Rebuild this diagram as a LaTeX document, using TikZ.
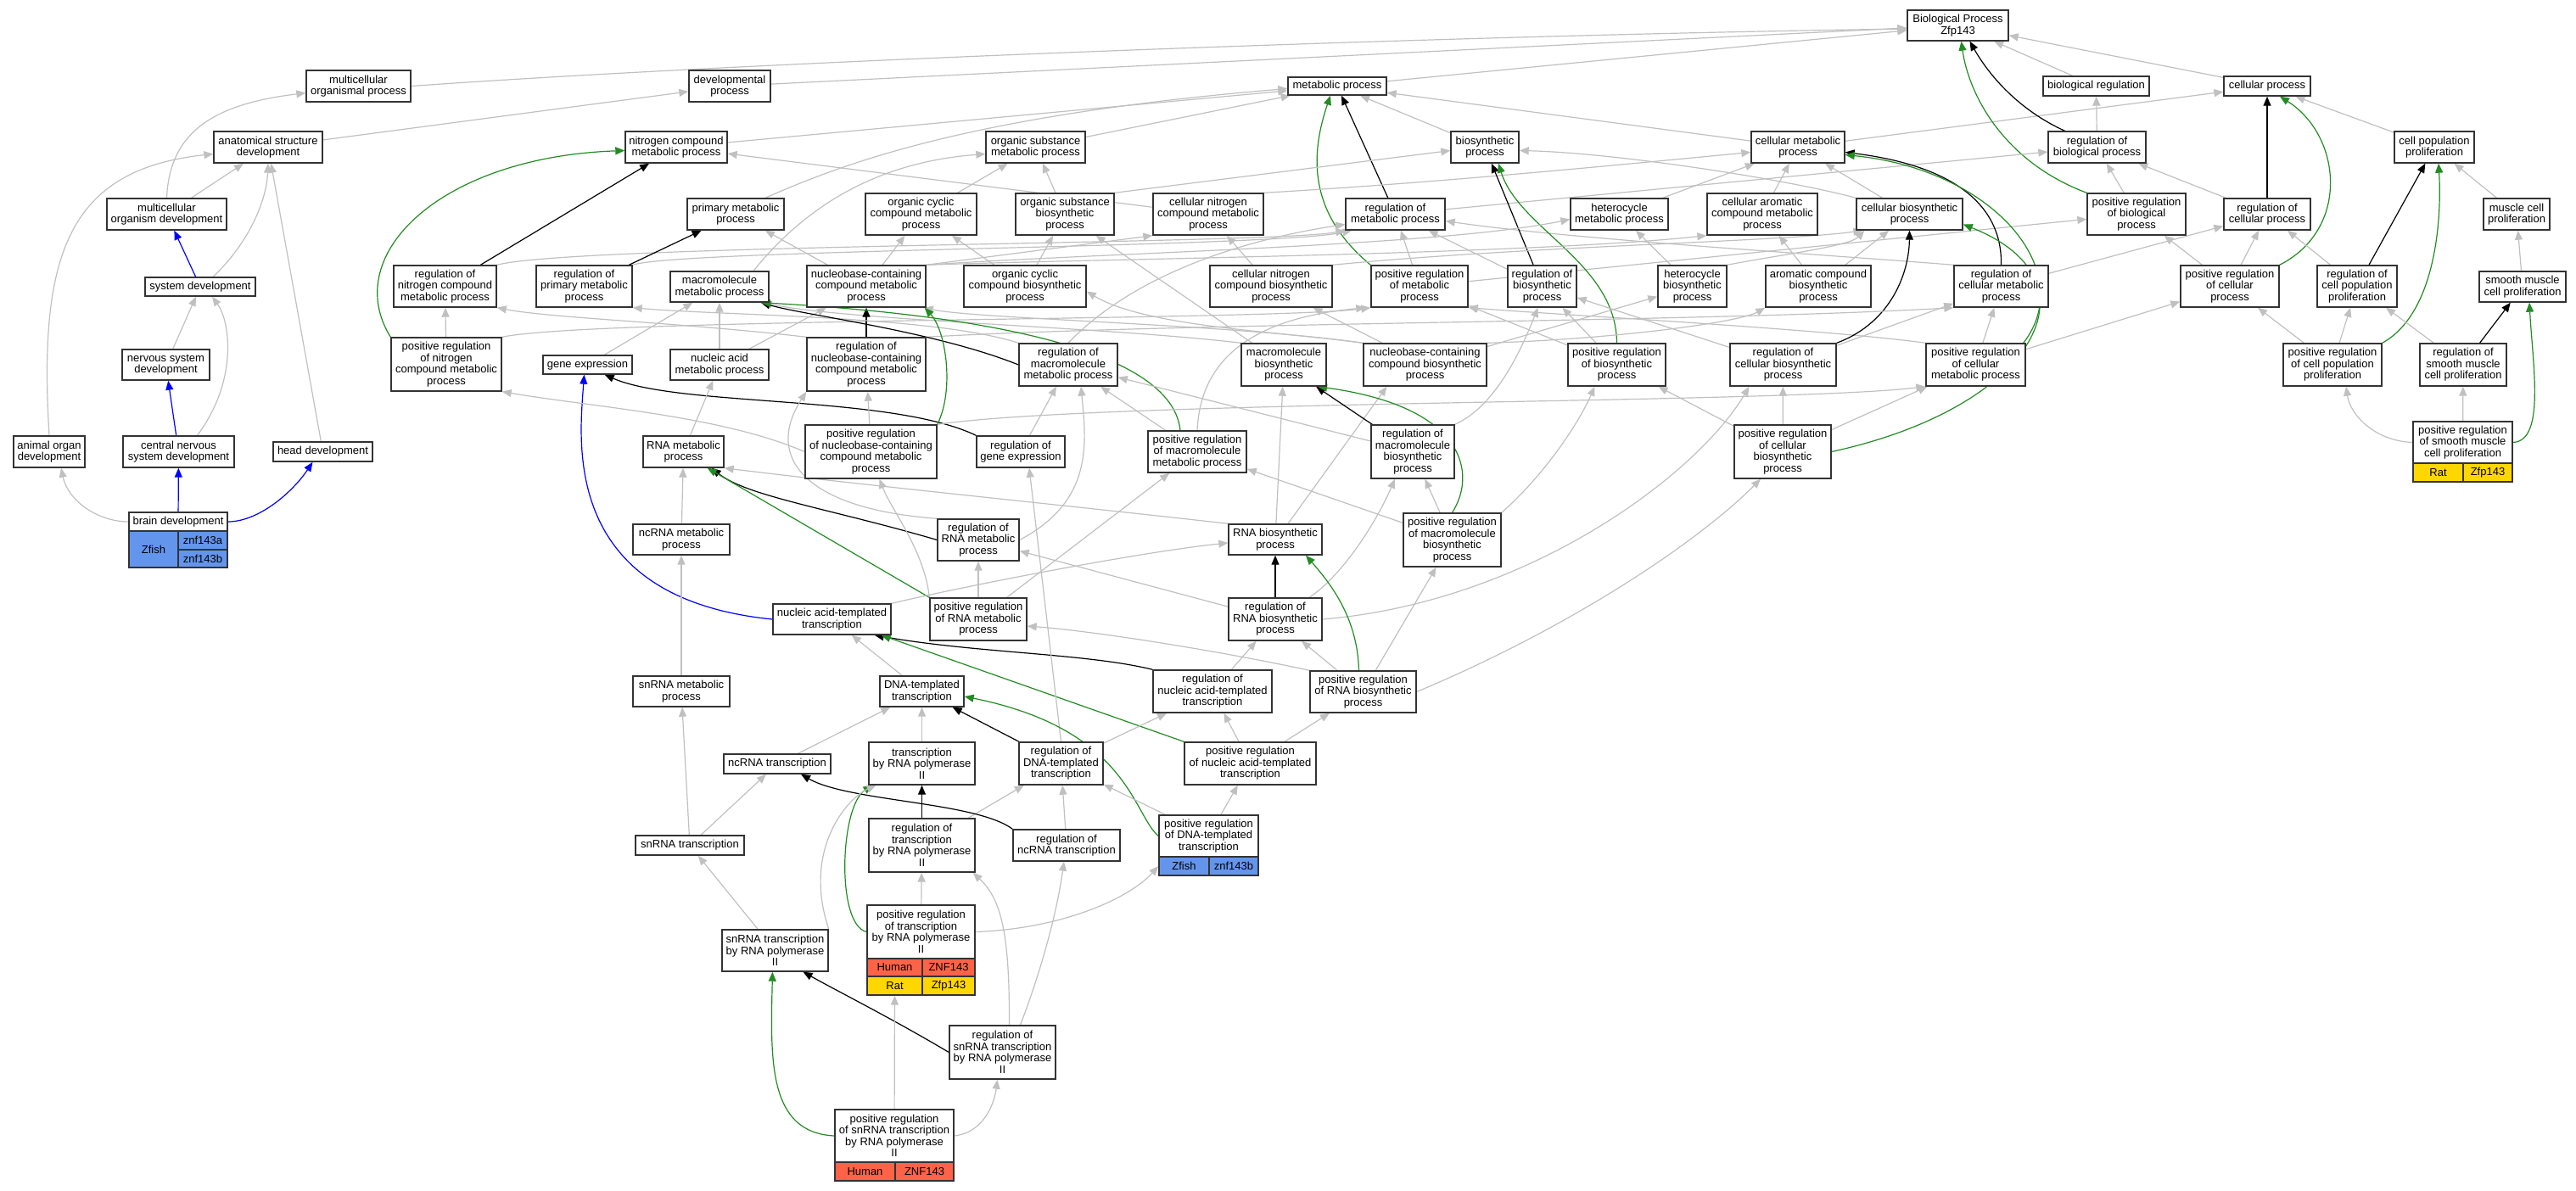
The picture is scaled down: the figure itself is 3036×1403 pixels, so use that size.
\documentclass[tikz,border=0pt]{standalone}
\usepackage{fontspec}
\setmainfont{Liberation Sans}
\usetikzlibrary{arrows.meta}
\definecolor{isag}{HTML}{C0C0C0}
\definecolor{posg}{HTML}{228B22}
\definecolor{partb}{HTML}{0000FF}
\definecolor{zf}{HTML}{6495ED}
\definecolor{hu}{HTML}{FF6347}
\definecolor{ra}{HTML}{FFD700}
\definecolor{bord}{HTML}{333333}
\pgfdeclarelayer{bg}
\pgfsetlayers{bg,main}
\tikzset{
 gobox/.style={draw=bord, line width=1.4pt, fill=white, inner sep=0pt, align=center, font=\fontsize{13}{13.5}\selectfont},
 cellbox/.style={draw=bord, line width=1.4pt, inner sep=0pt, align=center, font=\fontsize{13}{13.5}\selectfont},
 goedge/.style={line width=1.2pt, -{Triangle[length=11pt,width=9pt]}},
 isaE/.style={goedge, draw=isag},
 regE/.style={goedge, draw=black},
 posE/.style={goedge, draw=posg},
 partE/.style={goedge, draw=partb},
}
\newcommand\gonode[6]{\node[gobox,minimum width={#4-#2},minimum height={#5-#3}] (#1) at ({(#2+#4)/2},{(#3+#5)/2}) {#6};}
\newcommand\gocell[7]{\node[cellbox,fill=#6,minimum width={#4-#2},minimum height={#5-#3}] (#1) at ({(#2+#4)/2},{(#3+#5)/2}) {#7};}
\begin{document}
\begin{tikzpicture}[x=1pt,y=-1pt]
\useasboundingbox (0,0) rectangle (3036,1403);
% ---------- nodes ----------
\gonode{BPZ}{2248}{12}{2367}{48}{Biological Process\\Zfp143}
\gonode{MOP}{361}{83}{484}{120}{multicellular\\organismal process}
\gonode{DP}{812}{83}{908}{120}{developmental\\process}
\gonode{MP}{1518}{91}{1634}{112}{metabolic process}
\gonode{BR}{2408}{90}{2533}{113}{biological regulation}
\gonode{CP}{2621}{90}{2723}{113}{cellular process}
\gonode{ASD}{252}{155}{380}{192}{anatomical structure\\development}
\gonode{NCMP}{737}{155}{857}{192}{nitrogen compound\\metabolic process}
\gonode{OSMP}{1162}{155}{1279}{192}{organic substance\\metabolic process}
\gonode{BSP}{1710}{155}{1790}{192}{biosynthetic\\process}
\gonode{CMP}{2064}{155}{2174}{192}{cellular metabolic\\process}
\gonode{RBioP}{2414}{155}{2529}{192}{regulation of\\biological process}
\gonode{CPP}{2822}{155}{2916}{192}{cell population\\proliferation}
\gonode{MOD}{126}{234}{267}{271}{multicellular\\organism development}
\gonode{PMP}{810}{234}{924}{271}{primary metabolic\\process}
\gonode{OCCMP}{1020}{228}{1151}{277}{organic cyclic\\compound metabolic\\process}
\gonode{OSBP}{1197}{228}{1313}{277}{organic substance\\biosynthetic\\process}
\gonode{CNCMP}{1359}{228}{1489}{277}{cellular nitrogen\\compound metabolic\\process}
\gonode{RMP}{1586}{234}{1703}{271}{regulation of\\metabolic process}
\gonode{HMP}{1851}{234}{1966}{271}{heterocycle\\metabolic process}
\gonode{CACMP}{2012}{228}{2142}{277}{cellular aromatic\\compound metabolic\\process}
\gonode{CBP}{2188}{234}{2313}{271}{cellular biosynthetic\\process}
\gonode{PRBioP}{2460}{228}{2576}{277}{positive regulation\\of biological\\process}
\gonode{RCP}{2621}{234}{2723}{271}{regulation of\\cellular process}
\gonode{MCP}{2927}{234}{3005}{271}{muscle cell\\proliferation}
\gonode{SD}{171}{327}{301}{349}{system development}
\gonode{RNCMP}{464}{313}{585}{362}{regulation of\\nitrogen compound\\metabolic process}
\gonode{RPMP}{632}{313}{745}{362}{regulation of\\primary metabolic\\process}
\gonode{MMP}{790}{320}{906}{356}{macromolecule\\metabolic process}
\gonode{NCCMP}{951}{313}{1091}{362}{nucleobase-containing\\compound metabolic\\process}
\gonode{OCCBP}{1136}{313}{1280}{362}{organic cyclic\\compound biosynthetic\\process}
\gonode{CNCBP}{1426}{313}{1570}{362}{cellular nitrogen\\compound biosynthetic\\process}
\gonode{PRMP}{1616}{313}{1730}{362}{positive regulation\\of metabolic\\process}
\gonode{RBP}{1777}{313}{1858}{362}{regulation of\\biosynthetic\\process}
\gonode{HBP}{1954}{313}{2035}{362}{heterocycle\\biosynthetic\\process}
\gonode{ACBP}{2081}{313}{2205}{362}{aromatic compound\\biosynthetic\\process}
\gonode{RCMP}{2303}{313}{2414}{362}{regulation of\\cellular metabolic\\process}
\gonode{PRCP}{2570}{313}{2686}{362}{positive regulation\\of cellular\\process}
\gonode{RCPP}{2731}{313}{2825}{362}{regulation of\\cell population\\proliferation}
\gonode{SMCP}{2922}{320}{3024}{356}{smooth muscle\\cell proliferation}
\gonode{NSD}{144}{412}{247}{448}{nervous system\\development}
\gonode{PRNCMP}{461}{398}{591}{461}{positive regulation\\of nitrogen\\compound metabolic\\process}
\gonode{GE}{640}{419}{745}{441}{gene expression}
\gonode{NAMP}{790}{412}{906}{448}{nucleic acid\\metabolic process}
\gonode{RNCCMP}{951}{398}{1091}{461}{regulation of\\nucleobase-containing\\compound metabolic\\process}
\gonode{RMMP}{1201}{405}{1317}{455}{regulation of\\macromolecule\\metabolic process}
\gonode{MBP}{1463}{405}{1563}{455}{macromolecule\\biosynthetic\\process}
\gonode{NCCBP}{1607}{405}{1752}{455}{nucleobase-containing\\compound biosynthetic\\process}
\gonode{PRBP}{1848}{405}{1963}{455}{positive regulation\\of biosynthetic\\process}
\gonode{RCBP}{2039}{405}{2164}{455}{regulation of\\cellular biosynthetic\\process}
\gonode{PRCMP}{2270}{405}{2387}{455}{positive regulation\\of cellular\\metabolic process}
\gonode{PRCPP}{2691}{405}{2807}{455}{positive regulation\\of cell population\\proliferation}
\gonode{RSMCP}{2852}{405}{2954}{455}{regulation of\\smooth muscle\\cell proliferation}
\gonode{AOD}{16}{514}{100}{551}{animal organ\\development}
\gonode{CNSD}{145}{514}{276}{551}{central nervous\\system development}
\gonode{HD}{322}{521}{439}{544}{head development}
\gonode{RNAMP}{758}{514}{853}{551}{RNA metabolic\\process}
\gonode{PRNCCMP}{949}{501}{1104}{564}{positive regulation\\of nucleobase-containing\\compound metabolic\\process}
\gonode{RGE}{1151}{514}{1255}{551}{regulation of\\gene expression}
\gonode{PRMMP}{1353}{508}{1469}{557}{positive regulation\\of macromolecule\\metabolic process}
\gonode{RMBP}{1616}{501}{1714}{564}{regulation of\\macromolecule\\biosynthetic\\process}
\gonode{PRCBP}{2044}{501}{2158}{564}{positive regulation\\of cellular\\biosynthetic\\process}
\gonode{PRSMCP}{2844}{497}{2961}{546}{positive regulation\\of smooth muscle\\cell proliferation}
\gocell{PRSMCPa}{2844}{546}{2903}{568}{ra}{Rat}
\gocell{PRSMCPb}{2903}{546}{2961}{568}{ra}{Zfp143}
\gonode{BD}{152}{604}{268}{626}{brain development}
\gocell{BDz}{152}{626}{210}{669}{zf}{Zfish}
\gocell{BDa}{210}{626}{268}{648}{zf}{znf143a}
\gocell{BDb}{210}{648}{268}{669}{zf}{znf143b}
\gonode{ncRNAMP}{746}{618}{860}{654}{ncRNA metabolic\\process}
\gonode{RRNAMP}{1105}{612}{1201}{661}{regulation of\\RNA metabolic\\process}
\gonode{RNABP}{1448}{618}{1558}{654}{RNA biosynthetic\\process}
\gonode{PRMBP}{1654}{605}{1769}{668}{positive regulation\\of macromolecule\\biosynthetic\\process}
\gonode{NATT}{911}{712}{1050}{748}{nucleic acid-templated\\transcription}
\gonode{PRRNAMP}{1096}{705}{1210}{755}{positive regulation\\of RNA metabolic\\process}
\gonode{RRNABP}{1448}{705}{1558}{755}{regulation of\\RNA biosynthetic\\process}
\gonode{snRNAMP}{746}{797}{860}{833}{snRNA metabolic\\process}
\gonode{DNATT}{1037}{797}{1136}{833}{DNA-templated\\transcription}
\gonode{RNATT}{1359}{790}{1499}{840}{regulation of\\nucleic acid-templated\\transcription}
\gonode{PRRNABP}{1544}{791}{1669}{840}{positive regulation\\of RNA biosynthetic\\process}
\gonode{ncRNAT}{853}{889}{979}{912}{ncRNA transcription}
\gonode{TRP2}{1024}{875}{1149}{925}{transcription\\by RNA polymerase\\II}
\gonode{RDNATT}{1201}{875}{1300}{925}{regulation of\\DNA-templated\\transcription}
\gonode{PRNATT}{1396}{875}{1551}{925}{positive regulation\\of nucleic acid-templated\\transcription}
\gonode{snRNAT}{749}{985}{877}{1008}{snRNA transcription}
\gonode{RTRP2}{1024}{965}{1149}{1028}{regulation of\\transcription\\by RNA polymerase\\II}
\gonode{RncRNAT}{1194}{978}{1320}{1015}{regulation of\\ncRNA transcription}
\gonode{PRDNATT}{1366}{961}{1483}{1010}{positive regulation\\of DNA-templated\\transcription}
\gocell{PRDNATTa}{1366}{1010}{1425}{1032}{zf}{Zfish}
\gocell{PRDNATTb}{1425}{1010}{1483}{1032}{zf}{znf143b}
\gonode{snRNATRP2}{851}{1096}{976}{1145}{snRNA transcription\\by RNA polymerase\\II}
\gonode{PRTRP2}{1022}{1067}{1149}{1130}{positive regulation\\of transcription\\by RNA polymerase\\II}
\gocell{PRTRP2a}{1022}{1130}{1087}{1151}{hu}{Human}
\gocell{PRTRP2b}{1087}{1130}{1149}{1151}{hu}{ZNF143}
\gocell{PRTRP2c}{1022}{1151}{1087}{1173}{ra}{Rat}
\gocell{PRTRP2d}{1087}{1151}{1149}{1173}{ra}{Zfp143}
\gonode{RsnRNATRP2}{1119}{1209}{1244}{1272}{regulation of\\snRNA transcription\\by RNA polymerase\\II}
\gonode{PRsnRNATRP2}{984}{1308}{1124}{1370}{positive regulation\\of snRNA transcription\\by RNA polymerase\\II}
\gocell{PRsnRNATRP2a}{984}{1370}{1055}{1392}{hu}{Human}
\gocell{PRsnRNATRP2b}{1055}{1370}{1124}{1392}{hu}{ZNF143}
% ---------- edges ----------
\begin{pgfonlayer}{bg}
% development
\draw[isaE] (MOP.east) .. controls (900,72) and (1700,42) .. ([yshift=-4pt]BPZ.west);
\draw[isaE] (DP) -- (BPZ);
\draw[isaE] (ASD) -- (DP);
\draw[isaE] (MOD.north) .. controls (200,150) and (260,122) .. ([yshift=-8pt]MOP.west);
\draw[isaE] (MOD) -- (ASD);
\draw[partE] (SD) -- (MOD);
\draw[isaE] ([xshift=15pt]SD.north) .. controls (290,290) and (314,240) .. (ASD.south);
\draw[isaE] (NSD) -- (SD);
\draw[isaE] (AOD.north) .. controls (45,300) and (80,200) .. ([yshift=-8pt]ASD.west);
\draw[isaE] ([xshift=22pt]CNSD.north) .. controls (280,450) and (272,380) .. ([xshift=14pt]SD.south);
\draw[partE] (CNSD) -- (NSD);
\draw[isaE] (HD) -- (ASD);
\draw[isaE] (BD.west) .. controls (115,615) and (80,590) .. ([xshift=14pt]AOD.south);
\draw[partE] (BD) -- (CNSD);
\draw[partE] (BD.east) .. controls (305,615) and (345,580) .. ([xshift=-12pt]HD.south);
% top level
\draw[isaE] (MP) -- (BPZ);
\draw[isaE] (BR) -- (BPZ);
\draw[isaE] (CP) -- (BPZ);
\draw[isaE] (NCMP) -- (MP);
\draw[isaE] ([xshift=35pt]PMP.north) .. controls (1000,190) and (1150,135) .. ([yshift=-3pt]MP.west);
\draw[isaE] (OSMP) -- (MP);
\draw[isaE] ([xshift=40pt]MMP.north) .. controls (960,230) and (1050,190) .. ([yshift=-8pt]OSMP.west);
\draw[isaE] (BSP) -- (MP);
\draw[isaE] (CMP) -- (MP);
\draw[regE] (RMP) -- (MP);
\draw[posE] (PRMP.north west) .. controls (1540,250) and (1545,180) .. ([xshift=-8pt]MP.south);
\draw[isaE] (CMP) -- (CP);
\draw[isaE] (CPP) -- (CP);
\draw[regE] ([xshift=-38pt]RBioP.north) .. controls (2380,130) and (2345,90) .. ([xshift=14pt]BPZ.south);
\draw[posE] (PRBioP.north west) .. controls (2360,190) and (2320,110) .. ([xshift=4pt]BPZ.south);
\draw[isaE] (RBioP) -- (BR);
\draw[isaE] (PRBioP) -- (RBioP);
\draw[regE] (RCP) -- (CP);
\draw[isaE] (RCP) -- (RBioP);
\draw[posE] (PRCP.north east) .. controls (2770,270) and (2760,160) .. ([xshift=15pt]CP.south);
\draw[isaE] (PRCP) -- (RCP);
\draw[isaE] (PRCP) -- (PRBioP);
\draw[isaE] (RMP) -- (RBioP);
\draw[isaE] (PRMP) -- (PRBioP);
\draw[isaE] (PRMP) -- (RMP);
\draw[isaE] (RCMP) -- (RCP);
\draw[isaE] (RCMP.north west) .. controls (2150,300) and (1850,282) .. ([yshift=-8pt]RMP.east);
\draw[regE] (RCMP.north) .. controls (2360,240) and (2300,195) .. ([yshift=-6pt]CMP.east);
\draw[posE] ([xshift=-3pt]PRCMP.north east) .. controls (2450,320) and (2350,200) .. ([yshift=-9pt]CMP.east);
\draw[isaE] (PRCMP) -- (RCMP);
\draw[isaE] (PRCMP) -- (PRCP);
\draw[isaE] (PRCMP.north west) .. controls (2150,388) and (1850,372) .. (PRMP.south east);
% nitrogen / primary
\draw[regE] (RNCMP) -- (NCMP);
\draw[isaE] (RNCMP.north east) .. controls (680,288) and (1500,288) .. (RMP.south west);
\draw[regE] (RPMP) -- (PMP);
\draw[isaE] (RPMP.north east) .. controls (800,294) and (1500,292) .. ([xshift=8pt]RMP.south west);
\draw[posE] (PRNCMP.north west) .. controls (400,300) and (520,185) .. ([yshift=-4pt]NCMP.west);
\draw[isaE] (PRNCMP) -- (RNCMP);
\draw[isaE] (PRNCMP.north east) .. controls (700,375) and (1500,378) .. (PRMP.south west);
\draw[isaE] (GE) -- (MMP);
\draw[regE] (RGE.north west) .. controls (1050,465) and (800,480) .. ([xshift=-33pt]GE.south east);
\draw[partE] (NATT.west) .. controls (660,705) and (683,520) .. ([xshift=-4pt]GE.south);
\draw[isaE] (NCCMP) -- (PMP);
\draw[isaE] (OCCMP) -- (OSMP);
\draw[isaE] (OSBP) -- (OSMP);
\draw[isaE] (CNCMP) -- (NCMP);
\draw[isaE] (CNCMP.north east) .. controls (1700,215) and (1900,195) .. ([yshift=-6pt]CMP.west);
\draw[isaE] (OSBP.north east) -- ([yshift=-4pt]BSP.west);
\draw[isaE] (CBP.north west) .. controls (2100,210) and (1900,180) .. ([yshift=-4pt]BSP.east);
\draw[isaE] (CBP) -- (CMP);
\draw[regE] (RBP) -- (BSP);
\draw[posE] (PRBP.north) .. controls (1905,310) and (1790,270) .. ([xshift=16pt]BSP.south);
\draw[isaE] (PRBP) -- (RBP);
\draw[isaE] (PRBP) -- (PRMP);
\draw[isaE] (RBP) -- (RMP);
\draw[isaE] (RCBP) -- (RBP);
\draw[regE] (RCBP.north east) .. controls (2230,380) and (2250,320) .. (CBP.south);
\draw[isaE] (RCBP) -- (RCMP);
\draw[isaE] (PRCBP) -- (RCBP);
\draw[isaE] (PRCBP) -- (PRBP);
\draw[posE] (PRCBP.east) .. controls (2400,480) and (2480,330) .. ([yshift=-12pt]CBP.east);
\draw[isaE] (PRCBP) -- (PRCMP);
\draw[isaE] (HMP) -- (CMP);
\draw[isaE] (HBP) -- (HMP);
\draw[isaE] (HBP.north east) .. controls (2100,300) and (2180,290) .. ([xshift=10pt]CBP.south west);
\draw[isaE] (CACMP) -- (CMP);
\draw[isaE] (ACBP) -- (CACMP);
\draw[isaE] (ACBP) -- (CBP);
\draw[isaE] (NCCBP) -- (HBP);
\draw[isaE] (NCCBP.north east) .. controls (1900,400) and (2050,380) .. (ACBP.south west);
\draw[isaE] (NCCBP) -- (CNCBP);
\draw[isaE] (NCCBP.north west) .. controls (1500,390) and (1350,385) .. ([yshift=-6pt]OCCBP.east);
\draw[isaE] (NCCBP.north west) .. controls (1450,382) and (1150,376) .. ([xshift=-3pt]NCCMP.south east);
\draw[isaE] (NCCMP) -- (OCCMP);
\draw[isaE] (NCCMP.north east) -- (CNCMP.south west);
\draw[isaE] (NCCMP.north east) .. controls (1300,298) and (1700,290) .. ([yshift=-6pt]HMP.west);
\draw[isaE] (NCCMP.north east) .. controls (1300,305) and (1800,300) .. (CACMP.south west);
\draw[isaE] (OCCBP) -- (OCCMP);
\draw[isaE] (OCCBP) -- (OSBP);
\draw[isaE] (CNCBP) -- (CNCMP);
\draw[isaE] (CNCBP.north east) .. controls (1800,290) and (2100,285) .. ([xshift=8pt]CBP.south west);
\draw[isaE] (MBP) -- (OSBP);
\draw[isaE] (MBP.north west) .. controls (1300,385) and (1000,378) .. ([xshift=-8pt]MMP.south east);
\draw[isaE] (NAMP) -- (MMP);
\draw[isaE] (NAMP) -- (NCCMP);
\draw[regE] (RNCCMP) -- (NCCMP);
\draw[isaE] (RNCCMP.north west) .. controls (800,380) and (650,375) .. (RNCMP.south east);
\draw[isaE] (RMMP.north west) .. controls (1100,372) and (850,372) .. (RPMP.south east);
\draw[isaE] (RNCCMP.north east) .. controls (1400,380) and (2000,380) .. (RCMP.south west);
\draw[regE] (RMMP.west) .. controls (1100,390) and (950,372) .. ([xshift=-10pt]MMP.south east);
\draw[posE] ([xshift=-20pt]PRMMP.north) .. controls (1380,400) and (1100,368) .. ([xshift=-10pt]MMP.south east);
\draw[isaE] (RMMP.north) .. controls (1330,330) and (1450,285) .. ([yshift=-12pt]RMP.west);
\draw[isaE] (RGE) -- (RMMP);
\draw[isaE] (PRMMP) -- (RMMP);
\draw[isaE] (PRMMP.north) .. controls (1415,420) and (1480,375) .. ([xshift=-6pt]PRMP.south west);
\draw[isaE] (PRNCCMP) -- (RNCCMP);
\draw[posE] (PRNCCMP.north east) .. controls (1125,460) and (1115,390) .. ([xshift=-2pt]NCCMP.south east);
\draw[isaE] (PRNCCMP.west) .. controls (850,490) and (700,480) .. (PRNCMP.south east);
\draw[isaE] (PRNCCMP.north east) .. controls (1300,472) and (2100,476) .. (PRCMP.south west);
% RNA
\draw[regE] (RRNAMP.west) .. controls (980,600) and (880,585) .. ([xshift=-15pt]RNAMP.south east);
\draw[isaE] (RRNAMP.north west) .. controls (950,600) and (900,540) .. (RNCCMP.south west);
\draw[isaE] (RRNAMP.east) .. controls (1290,590) and (1280,520) .. ([xshift=15pt]RMMP.south);
\draw[posE] (PRRNAMP.north west) -- ([xshift=-20pt]RNAMP.south east);
\draw[isaE] (PRRNAMP) -- (RRNAMP);
\draw[isaE] (PRRNAMP.north west) .. controls (1090,650) and (1050,600) .. ([xshift=10pt]PRNCCMP.south);
\draw[isaE] (PRRNAMP) -- (PRMMP);
\draw[isaE] (RNABP.north west) .. controls (1250,595) and (1000,570) .. (RNAMP.south east);
\draw[isaE] ([xshift=15pt]RNABP.north) -- ([xshift=-45pt]NCCBP.south);
\draw[isaE] (RNABP) -- (MBP);
\draw[isaE] (NATT.north east) .. controls (1150,688) and (1350,650) .. ([yshift=-4pt]RNABP.west);
\draw[regE] (RRNABP) -- (RNABP);
\draw[isaE] (RRNABP) -- (RRNAMP);
\draw[isaE] ([xshift=40pt]RRNABP.north) .. controls (1580,680) and (1620,620) .. ([xshift=-21pt]RMBP.south);
\draw[isaE] (RRNABP.east) .. controls (1800,710) and (2000,560) .. ([xshift=-40pt]RCBP.south);
\draw[regE] (RNATT.north west) .. controls (1280,770) and (1150,770) .. ([xshift=-20pt]NATT.south east);
\draw[isaE] (RNATT) -- (RRNABP);
\draw[posE] ([xshift=-5pt]PRRNABP.north) .. controls (1600,730) and (1570,690) .. ([xshift=36pt]RNABP.south);
\draw[isaE] (PRRNABP) -- (RRNABP);
\draw[isaE] (PRRNABP) -- (PRMBP);
\draw[isaE] (PRRNABP.east) .. controls (1850,740) and (2000,640) .. ([xshift=-26pt]PRCBP.south);
\draw[isaE] (PRRNABP.north west) .. controls (1450,770) and (1300,745) .. ([yshift=-8pt]PRRNAMP.east);
\draw[regE] (RMBP) -- (MBP);
\draw[isaE] (RMBP) -- (RMMP);
\draw[isaE] (RMBP.north east) .. controls (1760,480) and (1790,420) .. ([xshift=-5pt]RBP.south);
\draw[posE] (PRMBP.north) .. controls (1740,560) and (1730,480) .. ([xshift=40pt]MBP.south);
\draw[isaE] (PRMBP) -- (RMBP);
\draw[isaE] (PRMBP) -- (PRMMP);
\draw[isaE] (PRMBP.north east) .. controls (1820,560) and (1860,500) .. ([xshift=-26pt]PRBP.south);
\draw[posE] (PRNATT.north west) -- ([xshift=-12pt]NATT.south east);
\draw[isaE] (PRNATT) -- (RNATT);
\draw[isaE] (PRNATT) -- (PRRNABP);
\draw[isaE] (DNATT) -- (NATT);
\draw[regE] (RDNATT) -- (DNATT);
\draw[isaE] (RDNATT) -- (RNATT);
\draw[isaE] (RDNATT.north) -- ([xshift=10pt]RGE.south);
\draw[posE] (PRDNATT.west) .. controls (1335,960) and (1330,860) .. ([yshift=-6pt]DNATT.east);
\draw[isaE] (PRDNATT) -- (RDNATT);
\draw[isaE] (PRDNATT) -- (PRNATT);
\draw[isaE] (TRP2) -- (DNATT);
\draw[isaE] (ncRNAT) -- (DNATT);
\draw[regE] (RTRP2) -- (TRP2);
\draw[isaE] (RTRP2) -- (RDNATT);
\draw[regE] (RncRNAT.north west) .. controls (1150,945) and (1000,945) .. ([xshift=28pt]ncRNAT.south);
\draw[isaE] (RncRNAT) -- (RDNATT);
\draw[posE] (PRTRP2.west) .. controls (985,1090) and (990,950) .. ([xshift=-58pt]TRP2.south);
\draw[isaE] (PRTRP2) -- (RTRP2);
\draw[isaE] (PRTRP2.east) .. controls (1250,1095) and (1330,1060) .. (PRDNATTa.west);
\draw[isaE] (snRNATRP2.north east) .. controls (945,1000) and (1000,940) .. ([xshift=-54pt]TRP2.south);
\draw[isaE] (snRNATRP2) -- (snRNAT);
\draw[isaE] (snRNAT) -- (snRNAMP);
\draw[isaE] (snRNAT) -- (ncRNAT);
\draw[isaE] (snRNAMP) -- (ncRNAMP);
\draw[isaE] (ncRNAMP) -- (RNAMP);
\draw[isaE] (RNAMP) -- (NAMP);
\draw[regE] (RsnRNATRP2.west) .. controls (1050,1200) and (990,1170) .. ([xshift=33pt]snRNATRP2.south);
\draw[isaE] ([xshift=8pt]RsnRNATRP2.north) .. controls (1190,1100) and (1180,1060) .. ([xshift=-3pt]RTRP2.south east);
\draw[isaE] ([xshift=21pt]RsnRNATRP2.north) .. controls (1225,1150) and (1245,1080) .. ([xshift=-3pt]RncRNAT.south);
\draw[posE] (PRsnRNATRP2.west) .. controls (905,1335) and (908,1250) .. ([xshift=-3pt]snRNATRP2.south);
\draw[isaE] (PRsnRNATRP2) -- (PRTRP2c);
\draw[isaE] (PRsnRNATRP2.east) .. controls (1160,1335) and (1172,1300) .. ([xshift=-6pt]RsnRNATRP2.south);
% proliferation
\draw[isaE] (MCP) -- (CPP);
\draw[isaE] (SMCP) -- (MCP);
\draw[regE] (RCPP) -- (CPP);
\draw[isaE] (RCPP) -- (RCP);
\draw[posE] (PRCPP.north east) .. controls (2870,370) and (2878,260) .. ([xshift=5pt]CPP.south);
\draw[isaE] (PRCPP) -- (RCPP);
\draw[isaE] (PRCPP) -- (PRCP);
\draw[regE] (RSMCP) -- (SMCP);
\draw[isaE] (RSMCP) -- (RCPP);
\draw[posE] (PRSMCP.east) .. controls (3000,520) and (2985,430) .. ([xshift=8pt]SMCP.south);
\draw[isaE] (PRSMCP) -- (RSMCP);
\draw[isaE] (PRSMCP.west) .. controls (2800,520) and (2770,490) .. ([xshift=16pt]PRCPP.south);
\end{pgfonlayer}
\end{tikzpicture}
\end{document}
